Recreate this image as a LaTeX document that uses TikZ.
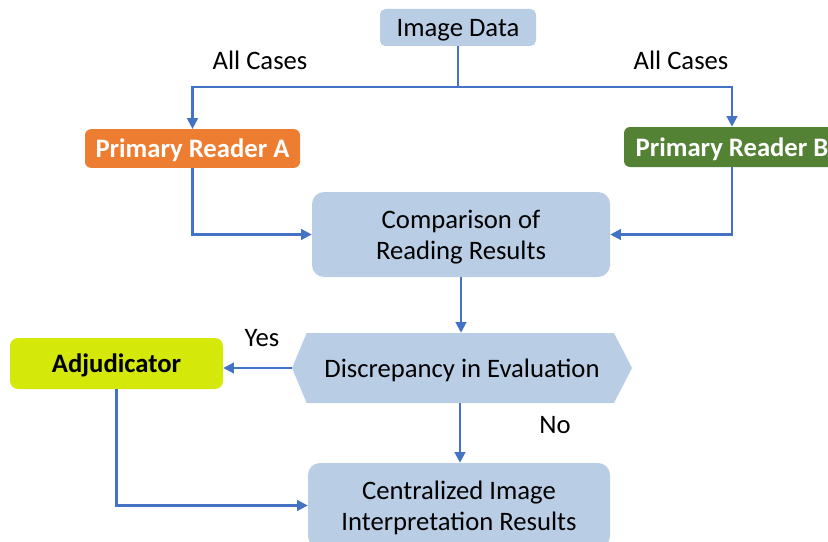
\documentclass[tikz,border=0pt]{standalone}
\usepackage{fontspec}
\setmainfont{Carlito}
\usetikzlibrary{arrows.meta}
\definecolor{boxblue}{HTML}{B9CDE5}
\definecolor{linkblue}{HTML}{4472C4}
\definecolor{readera}{HTML}{ED7D31}
\definecolor{readerb}{HTML}{548235}
\definecolor{adjlime}{HTML}{D4E80A}
\tikzset{
  boxtext/.style={align=center, inner sep=0pt, text depth=0pt},
  flowbox/.style={boxtext, fill=boxblue, rounded corners=9pt,
    font=\fontsize{20}{23.5}\selectfont},
  readerbox/.style={boxtext, rounded corners=4.5pt,
    text=white, font=\fontsize{20}{23}\selectfont\bfseries},
  link/.style={draw=linkblue, line width=1.6pt},
  arr/.style={link, -{Triangle[length=8pt, width=8pt]}},
  lbl/.style={font=\fontsize{20}{23}\selectfont, inner sep=0pt},
}
\begin{document}
\begin{tikzpicture}[x=0.75pt, y=-0.75pt]
\useasboundingbox (0,0) rectangle (828,542);

% nodes
\node[flowbox, rounded corners=4pt, minimum width=117pt, minimum height=27.75pt]
  (data) at (458,27.5) {Image Data};
\node[readerbox, fill=readera, minimum width=161.25pt, minimum height=29pt]
  (ra) at (192.5,148.5) {Primary Reader A};
\node[readerbox, fill=readerb, minimum width=162pt, minimum height=30pt]
  (rb) at (732,147) {Primary Reader B};
\node[flowbox, minimum width=223.5pt, minimum height=63.75pt]
  (cmp) at (461,234.5) {Comparison of\\Reading Results};
\node[boxtext, minimum width=255pt, minimum height=52.5pt,
  font=\fontsize{20}{23}\selectfont,
  path picture={\fill[boxblue]
    (path picture bounding box.west) -- ([xshift=11pt]path picture bounding box.north west)
    -- ([xshift=-13.5pt]path picture bounding box.north east) -- (path picture bounding box.east)
    -- ([xshift=-13.5pt]path picture bounding box.south east) -- ([xshift=11pt]path picture bounding box.south west)
    -- cycle;}]
  (disc) at (462,368) {Discrepancy in Evaluation};
\node[boxtext, rounded corners=6pt, fill=adjlime, minimum width=159.75pt, minimum height=38.25pt,
  font=\fontsize{20}{23}\selectfont\bfseries]
  (adj) at (116.5,363.5) {Adjudicator};
\node[flowbox, minimum width=226.5pt, minimum height=63.75pt]
  (res) at (459,505.5) {Centralized Image\\Interpretation Results};

% labels
\node[lbl] (allA) at (260,60) {All Cases};
\node[lbl] (allB) at (681,60) {All Cases};
\node[lbl] (yes) at (262,338) {Yes};
\node[lbl] (no) at (555,425) {No};

% connectors
\coordinate (split) at (458,87);
\draw[link] (data.south) -- (split);
\draw[arr] (split) -| (ra.north);
\draw[arr] (split) -| (rb.north);
\draw[arr] (ra.south) |- (cmp.west);
\draw[arr] (rb.south) |- (cmp.east);
\draw[arr] (cmp.south -| 461,0) -- (disc.north -| 461,0);
\draw[arr] (disc.west) -- (adj.east |- disc.west);
\draw[arr] (disc.south -| 460,0) -- (res.north -| 460,0);
\draw[arr] (adj.south) |- (res.west);
\end{tikzpicture}
\end{document}
